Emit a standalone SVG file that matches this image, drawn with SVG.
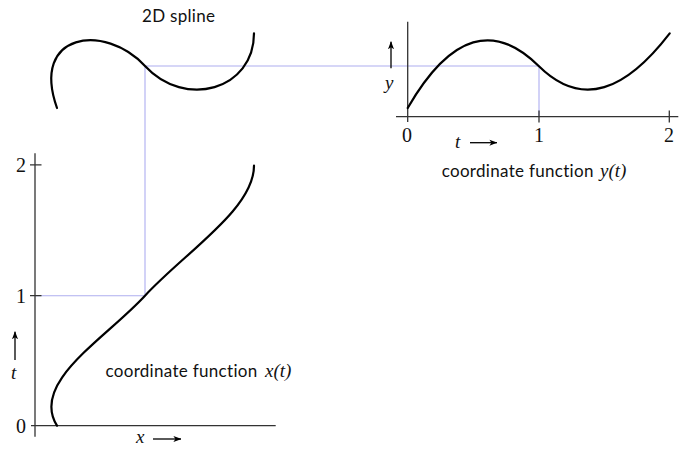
<svg xmlns="http://www.w3.org/2000/svg" width="679" height="454" viewBox="0 0 679 454">
<style>
.curve{fill:none;stroke:#000;stroke-width:2.2;stroke-linecap:round}
.axis{fill:none;stroke:#333;stroke-width:1.3}
.guide{fill:none;stroke:#aeaef0;stroke-width:1.1}
.arr{fill:none;stroke:#000;stroke-width:1.3}
.sans{font-family:Lato,"Open Sans",sans-serif;font-size:17px;fill:#111;font-variant-ligatures:none;font-feature-settings:"liga" 0,"clig" 0}
.num{font-family:"Liberation Serif","Times New Roman",serif;font-size:20px;fill:#111;text-anchor:middle}
.var{font-family:"Liberation Serif","Times New Roman",serif;font-style:italic;font-size:19px;fill:#111}
</style>
<defs>
<marker id="ah" viewBox="0 0 10 10" refX="9.5" refY="5" markerWidth="8" markerHeight="8" markerUnits="userSpaceOnUse" orient="auto">
<path d="M0,1.2 L10,5 L0,8.8 L2.5,5 Z" fill="#000"/>
</marker>
</defs>

<g id="connectors">
<path class="guide" d="M145,66 H539 V116.7"/>
<path class="guide" d="M145,66 V295.7 H35"/>
</g>

<g id="spline2d">
<text class="sans" x="142" y="22" textLength="73" lengthAdjust="spacing">2D spline</text>
<path class="curve" d="M57,108 C30,32.4 105,22.7 145,66 C185,109.3 254,90 254,33.3"/>
</g>

<g id="plot-y">
<path class="axis" d="M407.7,21.7 V122 M396,116.7 H678.3 M539,110.5 V122.5 M669.3,110.5 V122.5"/>
<path class="curve" d="M407.7,108 C451.4,32.4 495,22.7 538.7,66 C582.4,109.3 626,90 669.7,33.3"/>
<text class="num" x="407" y="141.5">0</text>
<text class="num" x="539" y="141.5">1</text>
<text class="num" x="669" y="141.5">2</text>
<text class="var" x="455" y="148">t</text>
<line class="arr" x1="470" y1="142.7" x2="497" y2="142.7" marker-end="url(#ah)"/>
<line class="arr" x1="391" y1="68.3" x2="391" y2="41.7" marker-end="url(#ah)"/>
<text class="var" x="385" y="89">y</text>
<text class="sans" x="441.7" y="177" textLength="151.7" lengthAdjust="spacing">coordinate function</text>
<text class="var" x="600" y="177">y(t)</text>
</g>

<g id="plot-x">
<path class="axis" d="M35,153.3 V436.7 M31,425.7 H275.7 M30,164.8 H41.5 M30,295.7 H41.5"/>
<path class="curve" d="M57,425.7 C30,382.4 105,339 145,295.7 C185,252.4 254,209 254,165.7"/>
<text class="num" x="21" y="171.7">2</text>
<text class="num" x="21" y="302.7">1</text>
<text class="num" x="21" y="432.5">0</text>
<line class="arr" x1="15" y1="360" x2="15" y2="331.7" marker-end="url(#ah)"/>
<text class="var" x="11" y="379">t</text>
<text class="var" x="136" y="443">x</text>
<line class="arr" x1="153" y1="439" x2="181" y2="439" marker-end="url(#ah)"/>
<text class="sans" x="105.5" y="377" textLength="151.7" lengthAdjust="spacing">coordinate function</text>
<text class="var" x="265" y="377">x(t)</text>
</g>
</svg>
